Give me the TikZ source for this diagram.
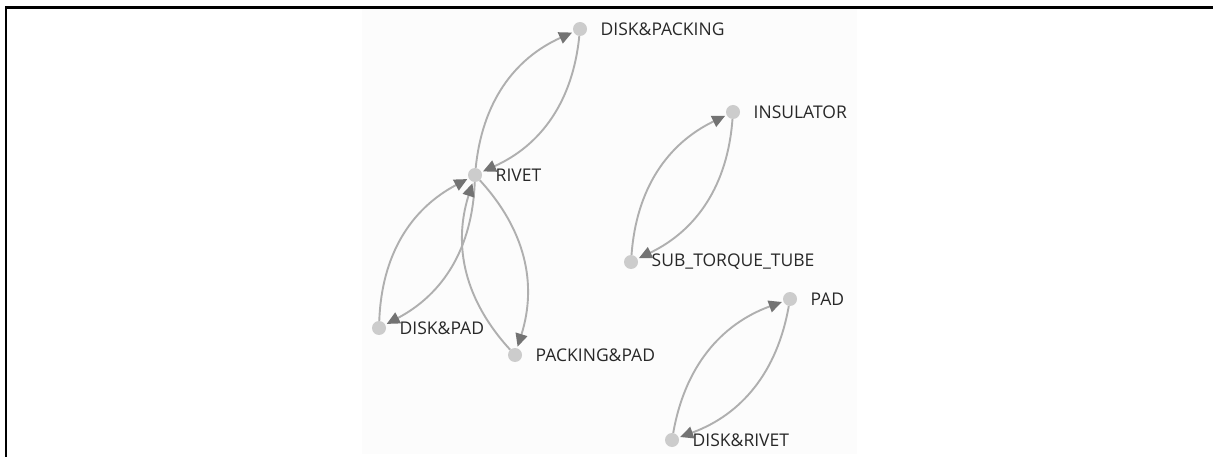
\documentclass[tikz,border=0pt]{standalone}
\usepackage{fontspec}
\setmainfont{Open Sans}
\usetikzlibrary{arrows.meta}
\definecolor{nodegray}{RGB}{204,204,204}
\definecolor{edgegray}{RGB}{175,175,175}
\definecolor{tipgray}{RGB}{115,115,115}
\definecolor{textgray}{RGB}{40,40,40}

\begin{document}
\begin{tikzpicture}[x=1pt, y=-1pt, font=\fontsize{17.5}{20}\selectfont,
    main/.style = {circle, fill=nodegray, minimum size=14pt, inner sep=0pt},
    lbl/.style = {text=textgray, label distance=10pt},
    edge/.style = {draw=edgegray, line width=1.9pt, shorten >=1.5pt,
        -{Triangle[length=13pt, width=12pt, color=tipgray]}}]
    % frame and panel
    \useasboundingbox (0,0) rectangle (1213,457);
    \fill[black!1.2] (362,9) rectangle (857,454);
    \draw[line width=2.5pt] (6,457) -- (6,7.5) -- (1213,7.5);

    \node[main, label={[lbl]right:DISK\&PACKING}] (n_dp) at (580,29) {};
    \node[main, label={[lbl]right:INSULATOR}] (n_ins) at (733,112) {};
    \node[main, label={[lbl]right:RIVET}] (n_riv) at (475,175) {};
    \node[main, label={[lbl]right:SUB\_TORQUE\_TUBE}] (n_stt) at (631,262) {};
    \node[main, label={[lbl]right:PAD}] (n_pad) at (790,299) {};
    \node[main, label={[lbl]right:DISK\&PAD}] (n_dpad) at (379,328) {};
    \node[main, label={[lbl]right:PACKING\&PAD}] (n_ppad) at (515,355) {};
    \node[main, label={[lbl]right:DISK\&RIVET}] (n_dr) at (672,440) {};

    \draw[edge] (n_riv) to [bend left=30] (n_dp);
    \draw[edge] (n_dp) to [bend left=30] (n_riv);
    \draw[edge] (n_stt) to [bend left=30] (n_ins);
    \draw[edge] (n_ins) to [bend left=30] (n_stt);
    \draw[edge] (n_dr) to [bend left=30] (n_pad);
    \draw[edge] (n_pad) to [bend left=30] (n_dr);
    \draw[edge] (n_dpad) to [bend left=30] (n_riv);
    \draw[edge] (n_riv) to [bend left=30] (n_dpad);
    \draw[edge] (n_riv) to [bend left=30] (n_ppad);
    \draw[edge] (n_ppad) to [bend left=30] (n_riv);
\end{tikzpicture}
\end{document}
